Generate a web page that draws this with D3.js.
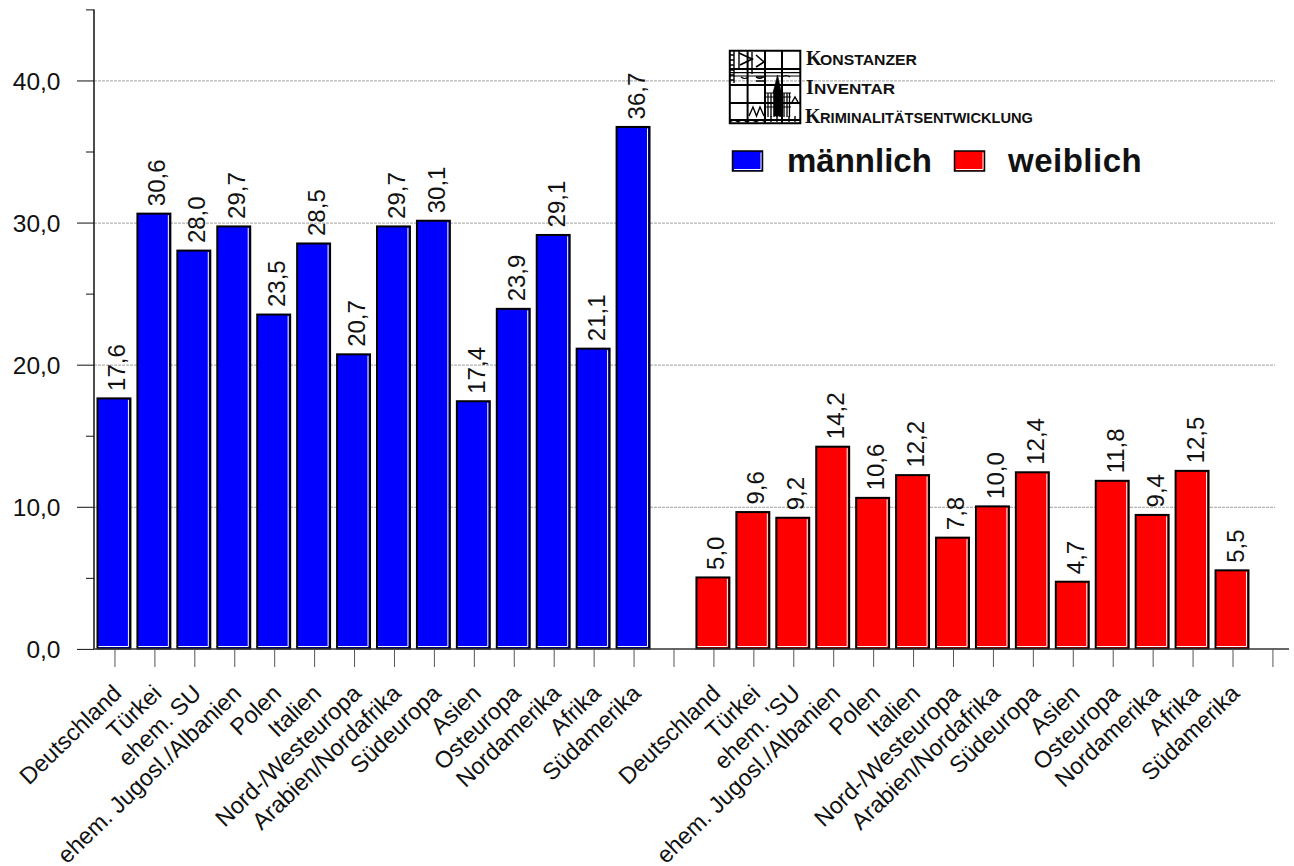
<!DOCTYPE html>
<html>
<head>
<meta charset="utf-8">
<style>
html,body{margin:0;padding:0;background:#fff}
svg{display:block}
text{font-family:"Liberation Sans",Arial,sans-serif;fill:#111}
</style>
<script src="https://cdn.jsdelivr.net/npm/d3@7/dist/d3.min.js"></script>
</head>
<body>
<svg id="chart" width="1294" height="866"></svg>
<script>
// Regions of origin, repeated once per sex, with a blank slot closing each group
const categoriesMale = ["Deutschland","Türkei","ehem. SU","ehem. Jugosl./Albanien","Polen","Italien","Nord-/Westeuropa","Arabien/Nordafrika","Südeuropa","Asien","Osteuropa","Nordamerika","Afrika","Südamerika",""];
const categoriesFemale = ["Deutschland","Türkei","ehem. 'SU","ehem. Jugosl./Albanien","Polen","Italien","Nord-/Westeuropa","Arabien/Nordafrika","Südeuropa","Asien","Osteuropa","Nordamerika","Afrika","Südamerika",""];
const valuesMale = [17.6,30.6,28.0,29.7,23.5,28.5,20.7,29.7,30.1,17.4,23.9,29.1,21.1,36.7,null];
const valuesFemale = [5.0,9.6,9.2,14.2,10.6,12.2,7.8,10.0,12.4,4.7,11.8,9.4,12.5,5.5,null];
const majorTicks = [0,10,20,30,40];
const minorTicks = [5,15,25,35,45];
const legendItems = [["männlich","#0000ff"],["weiblich","#ff0000"]];
const logoLines = ["ONSTANZER","NVENTAR","RIMINALITÄTSENTWICKLUNG"];
const logoInitials = ["K","I","K"];

const labels = categoriesMale.concat(categoriesFemale);
const values = valuesMale.concat(valuesFemale);
const seriesColor = i => i < categoriesMale.length ? "#0000ff" : "#ff0000";
const fmt = v => v.toFixed(1).replace(".", ",");

const svg = d3.select("#chart");
const y = d3.scaleLinear().domain([0,45]).range([649,9.5]);
const x = d3.scaleBand().domain(d3.range(labels.length)).range([93.5,1291.4]).paddingInner(0.125).paddingOuter(0.0625);
const tickX = i => x(i) + x.bandwidth()/2 + 1.5;
const axisX = 94;

// Horizontal reference lines
svg.append("g").selectAll("line").data(majorTicks.slice(1)).join("line")
  .attr("x1",axisX).attr("x2",1275)
  .attr("y1",d=>y(d)+0.4).attr("y2",d=>y(d)+0.4)
  .attr("stroke","#b4b4b4").attr("stroke-width",1.2).attr("stroke-dasharray","3 1");

// Logo sits over the upper reference line, which stays visible through it
function drawLogo(g){
  const path = (d,w=1.4,fill="none") => g.append("path").attr("d",d).attr("stroke","#000").attr("stroke-width",w).attr("fill",fill);
  path("M0.8 0.8H71.3V73.2H0.8Z",2);
  path("M18.6 0V73M36 0V73M53 0V73",2);
  path("M0 19H71M0 35H71M0 53H71M0 70H71",2);
  path("M0 22.6H71M0 26H71",1.2);
  // Ladder strip and pennants in the upper left
  path("M5 0V33M0 5H5M0 10H5M0 15H5M0 20H5M0 25H5M0 30H5M10 0V19",1.4);
  path("M10 3L23 9L11 15",1.8);
  path("M23 2V24",1.4);
  path("M27 5L35 12L27 17",1.6);
  path("M27 27H35M27 31H35M27 35H35",1.4);
  path("M12 27q4 3 7 0M27 27q4 3 7 0M53 27q4 -3 8 0",1.2);
  // Tower with its spire and the nave beneath it
  path("M36 43H62M36 47H62M36 57H62",1.2);
  path("M39 43V67M42 43V67M45 43V67M48 43V67M51 43V67M55 43V67M58 43V67M60.5 43V67",1.3);
  path("M48.5 25L52.5 43H44Z",0.6,"#000");
  path("M45 40H52V66H45Z",0.6,"#000");
  // Gable row and right-hand gables
  path("M20 66L24 57L27.5 66L31 57L35 66",1.4);
  path("M62 54L66 47L70 54",1.4);
  // Arcade along the foot of the logo
  path("M1 72q4-4 8 0q4-4 9 0q4-4 9 0q4-4 9 0M36 66V72M42 66V72M48 66V72M60 66V72M66 66V72",1.4);
}
const logo = svg.append("g").attr("transform","translate(729,50)");
drawLogo(logo);

// Wordmark: enlarged serif initial followed by capitals stretched to a set width
const logoRowY = [65,94,123];
const logoRowX = [806,806,805];
const logoRowTextX = [820,814,820];
const logoRowWidth = [97,81,213];
logoLines.forEach((t,i)=>{
  svg.append("text").attr("x",logoRowX[i]).attr("y",logoRowY[i]).style("font-family","'Liberation Serif',serif").attr("font-weight","bold").attr("font-size",20).text(logoInitials[i]);
  svg.append("text").attr("x",logoRowTextX[i]).attr("y",logoRowY[i]).attr("font-weight","bold").attr("font-size",15)
    .attr("textLength",logoRowWidth[i]).attr("lengthAdjust","spacingAndGlyphs").text(t);
});

// Bars: black outline, white inner edge on the right and bottom
const barIdx = d3.range(labels.length).filter(i=>values[i]!==null);
const bars = svg.append("g").selectAll("g").data(barIdx).join("g");
bars.append("rect")
  .attr("x",i=>x(i)+1.5).attr("y",i=>y(values[i])-0.5)
  .attr("width",x.bandwidth()-2).attr("height",i=>y(0)-y(values[i]))
  .attr("fill",seriesColor).attr("stroke","#000").attr("stroke-width",2);
bars.append("path")
  .attr("d",i=>{
    const r = x(i)+x.bandwidth()-2.5, b = y(0)-2.5, t = y(values[i])+1;
    return `M${r} ${t}V${b}H${x(i)+2.5}`;
  })
  .attr("fill","none").attr("stroke","#fff").attr("stroke-width",1);

// Value labels read upward above each bar
svg.append("g").selectAll("text").data(barIdx).join("text")
  .attr("transform",i=>`translate(${tickX(i)+10.5},${y(values[i])-8}) rotate(-90)`)
  .attr("font-size",24)
  .text(i=>fmt(values[i]));

// Vertical axis with long major and short minor ticks
const axisG = svg.append("g").attr("stroke","#111");
axisG.append("line").attr("x1",axisX).attr("x2",axisX).attr("y1",y(45)).attr("y2",y(0)).attr("stroke-width",1.5);
axisG.selectAll(".maj").data(majorTicks).join("line").attr("class","maj")
  .attr("x1",77).attr("x2",axisX).attr("y1",d=>y(d)+0.4).attr("y2",d=>y(d)+0.4).attr("stroke-width",1);
axisG.selectAll(".min").data(minorTicks).join("line").attr("class","min")
  .attr("x1",86).attr("x2",axisX).attr("y1",d=>y(d)+0.4).attr("y2",d=>y(d)+0.4).attr("stroke-width",1);
svg.append("g").selectAll("text").data(majorTicks).join("text")
  .attr("x",60.5).attr("y",d=>y(d)+9).attr("text-anchor","end")
  .attr("font-size",24.5).text(d=>fmt(d));

// Category axis: baseline, tick marks, slanted labels
svg.append("line").attr("x1",axisX).attr("x2",1289).attr("y1",y(0)).attr("y2",y(0)).attr("stroke","#333").attr("stroke-width",1.5);
svg.append("g").selectAll("line").data(d3.range(labels.length)).join("line")
  .attr("x1",tickX).attr("x2",tickX).attr("y1",y(0)).attr("y2",667)
  .attr("stroke","#555").attr("stroke-width",1);
svg.append("g").selectAll("text").data(d3.range(labels.length)).join("text")
  .attr("transform",i=>`translate(${tickX(i)+8},${695}) rotate(-44)`)
  .attr("text-anchor","end").attr("font-size",23.5).text(i=>labels[i]);

// Legend swatches and names
const legendX = [[732,787],[954,1008]];
const legendSpacing = [0,0.5];
legendItems.forEach(([name,color],i)=>{
  svg.append("rect").attr("x",legendX[i][0]+0.5).attr("y",151).attr("width",30).attr("height",20)
    .attr("fill",color).attr("stroke","#000").attr("stroke-width",1.5);
  svg.append("path").attr("d",`M${legendX[i][0]+29} 152.5V169.5H${legendX[i][0]+2}`).attr("stroke","#fff").attr("fill","none");
  svg.append("text").attr("x",legendX[i][1]).attr("y",172).attr("font-size",33).attr("font-weight","bold")
    .attr("letter-spacing",legendSpacing[i]).text(name);
});
</script>
</body>
</html>
